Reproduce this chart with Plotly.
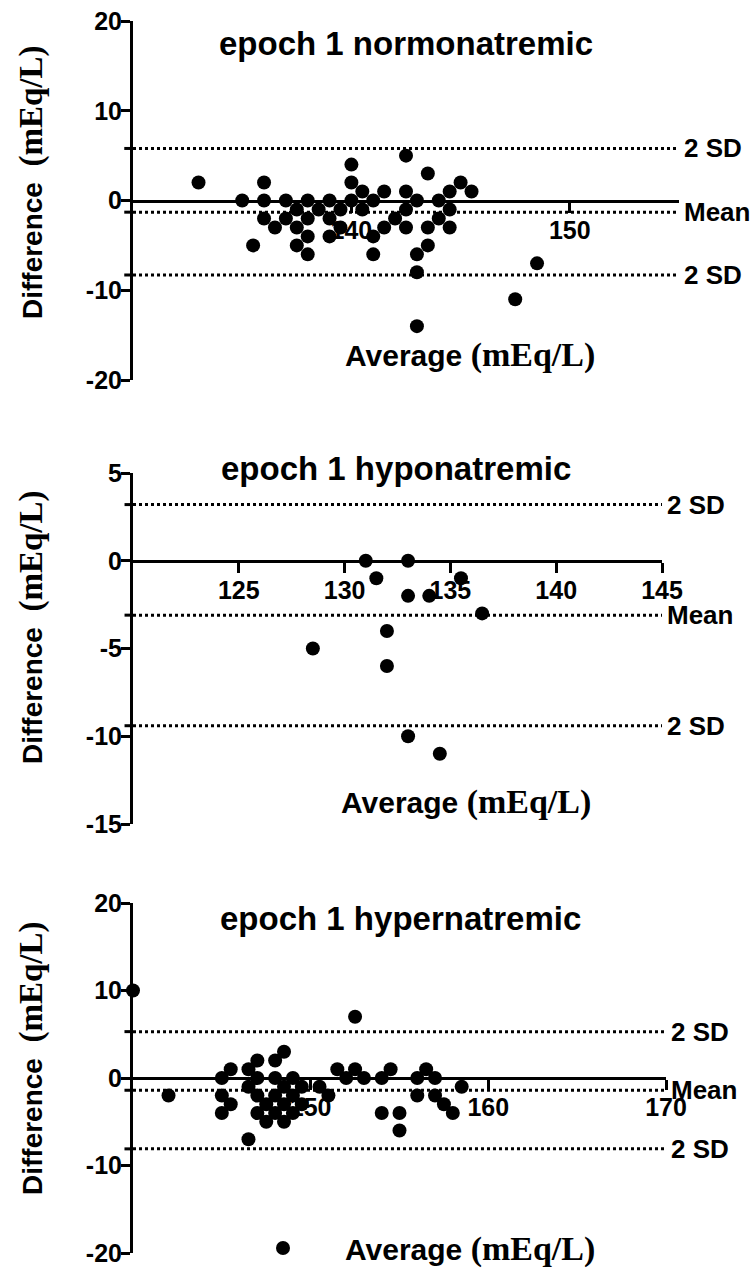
import plotly.graph_objects as go

W, H = 755, 1268
SANS = "Liberation Sans"
SERIF = "Liberation Serif"

# ---------------- data ----------------
# Panel 1: epoch 1 normonatremic
norm_avg = [133, 135, 135.5, 136, 136, 136, 136.5, 137, 137, 137.5, 137.5, 137.5,
            138, 138, 138, 138, 138.5, 139, 139, 139, 139.5, 139.5, 140, 140, 140,
            140.5, 140.5, 141, 141, 141, 141.5, 141.5, 142, 142.5, 142.5, 142.5, 142.5,
            143, 143, 143, 143, 143.5, 143.5, 143.5, 144, 144, 144.5, 144.5, 144.5,
            145, 145.5, 147.5, 148.5]
norm_diff = [2, 0, -5, 2, 0, -2, -3, 0, -2, -1, -3, -5,
             0, -2, -4, -6, -1, 0, -2, -4, -1, -3, 4, 2, 0,
             1, -1, 0, -4, -6, 1, -3, -2, 5, 1, -1, -3,
             0, -6, -8, -14, 3, -3, -5, 0, -2, 1, -1, -3,
             2, 1, -11, -7]
norm_upper, norm_mean, norm_lower = 5.8, -1.3, -8.3

# Panel 2: epoch 1 hyponatremic
hypo_avg = [128.5, 131, 131.5, 132, 132, 133, 133, 133, 134, 134.5, 135.5, 136.5]
hypo_diff = [-5, 0, -1, -4, -6, 0, -2, -10, -2, -11, -1, -3]
hypo_upper, hypo_mean, hypo_lower = 3.2, -3.1, -9.4

# Panel 3: epoch 1 hypernatremic
hyper_avg = [140, 142, 145, 145, 145, 145.5, 145.5, 146.5, 146.5, 146.5,
             147, 147, 147, 147, 147.5, 147.5, 148, 148, 148, 148,
             148.5, 148.5, 148.5, 148.5, 149, 149, 149, 149.5, 149.5,
             150.5, 151, 151.5, 152, 152.5, 152.5, 153, 154, 154, 154.5,
             155, 155, 156, 156, 156.5, 157, 157, 157.5, 158, 158.5]
hyper_diff = [10, -2, 0, -2, -4, 1, -3, 1, -1, -7,
              2, 0, -2, -4, -3, -5, 2, 0, -2, -4,
              3, -1, -3, -5, 0, -2, -4, -1, -3,
              -1, -2, 1, 0, 7, 1, 0, 0, -4, 1,
              -4, -6, 0, -2, 1, 0, -2, -3, -4, -1]
hyper_upper, hyper_mean, hyper_lower = 5.3, -1.4, -8.1

titles = ["epoch 1 normonatremic", "epoch 1 hyponatremic", "epoch 1 hypernatremic"]
x_ranges = [[130, 155], [120, 145], [140, 170]]
y_ranges = [[-20, 20], [-15, 5], [-20, 20]]
x_ticks = [[140, 150], [125, 130, 135, 140, 145], [150, 160, 170]]
y_ticks = [[-20, -10, 0, 10, 20], [-15, -10, -5, 0, 5], [-20, -10, 0, 10, 20]]
line_labels = ["2 SD", "Mean", "2 SD"]

AVG_LABEL = ('Average <span style="font-family:Liberation Serif;font-size:34px">'
             '(mEq/L)</span>')
DIFF_LABEL = ('Difference  <span style="font-family:Liberation Serif;font-size:33px">'
              '(mEq/L)</span>')

# ---------------- layout geometry (pixels) ----------------
panels = [
    dict(x0=133, x1=679, ytop=21, ybot=380, title_xy=(406, 43), avg_xy=(470, 355), ytitle_y=182),
    dict(x0=133, x1=662, ytop=473, ybot=824, title_xy=(396, 469), avg_xy=(466, 802), ytitle_y=627),
    dict(x0=133, x1=666, ytop=903, ybot=1253, title_xy=(400, 918), avg_xy=None, ytitle_y=1058),
]

series = [
    (norm_avg, norm_diff, (norm_upper, norm_mean, norm_lower)),
    (hypo_avg, hypo_diff, (hypo_upper, hypo_mean, hypo_lower)),
    (hyper_avg, hyper_diff, (hyper_upper, hyper_mean, hyper_lower)),
]

fig = go.Figure()
shapes = []
annotations = []
layout_axes = {}

def px(x):
    return x / W

def py(y):
    return 1 - y / H

for i, (p, (xs, ys, lines)) in enumerate(zip(panels, series)):
    n = "" if i == 0 else str(i + 1)
    xa, ya = "x" + n, "y" + n
    last = i == 2
    fig.add_trace(go.Scatter(
        x=xs, y=ys, mode="markers", xaxis=xa, yaxis=ya,
        marker=dict(size=14, color="black"),
        cliponaxis=False,
        showlegend=last,
        name=AVG_LABEL if last else titles[i],
    ))
    ydom = [py(p["ybot"]), py(p["ytop"])]
    yr = y_ranges[i]
    zero_pos = ydom[0] + (0 - yr[0]) / (yr[1] - yr[0]) * (ydom[1] - ydom[0])
    tickfont = dict(family=SANS, size=25, color="black", weight="bold")
    layout_axes["xaxis" + n] = dict(
        domain=[px(p["x0"]), px(p["x1"])], range=x_ranges[i],
        anchor="free", position=zero_pos,
        showline=True, linewidth=3, linecolor="black",
        ticks="outside", ticklen=10, tickwidth=3, tickcolor="black",
        tickvals=x_ticks[i], ticktext=[str(v) for v in x_ticks[i]],
        tickfont=tickfont, showgrid=False, zeroline=False,
        ticklabelstandoff=-4, ticklabeloverflow="allow",
        layer="below traces", fixedrange=True, automargin=False,
    )
    layout_axes["yaxis" + n] = dict(
        domain=ydom, range=yr, anchor=xa,
        showline=True, linewidth=3, linecolor="black",
        ticks="outside", ticklen=9, tickwidth=3, tickcolor="black",
        tickvals=y_ticks[i], ticktext=[str(v) for v in y_ticks[i]],
        tickfont=tickfont, showgrid=False, zeroline=False, fixedrange=True,
        ticklabelstandoff=-6, ticklabeloverflow="allow",
        automargin=False,
    )
    for val, lab in zip(lines, line_labels):
        shapes.append(dict(type="line", xref=xa + " domain", yref=ya,
                           x0=0, x1=1, y0=val, y1=val, layer="below",
                           line=dict(color="black", width=3, dash="3px,3px")))
        shapes.append(dict(type="line", xref=xa + " domain", yref=ya,
                           x0=-0.016, x1=0, y0=val, y1=val, layer="below",
                           line=dict(color="black", width=3)))
        annotations.append(dict(xref=xa + " domain", yref=ya, x=1, y=val,
                                xanchor="left", yanchor="middle", xshift=3,
                                text=lab, showarrow=False,
                                font=dict(family=SANS, size=26, color="black", weight="bold")))
    tx, ty = p["title_xy"]
    annotations.append(dict(xref="paper", yref="paper", x=px(tx), y=py(ty),
                            xanchor="center", yanchor="middle", text=titles[i],
                            showarrow=False,
                            font=dict(family=SANS, size=33, color="black", weight="bold")))
    if p["avg_xy"] is not None:
        ax_, ay_ = p["avg_xy"]
        annotations.append(dict(xref="paper", yref="paper", x=px(ax_), y=py(ay_),
                                xanchor="center", yanchor="middle", text=AVG_LABEL,
                                showarrow=False,
                                font=dict(family=SANS, size=30, color="black", weight="bold")))
    annotations.append(dict(xref="paper", yref="paper", x=px(31), y=py(p["ytitle_y"]),
                            xanchor="center", yanchor="middle", text=DIFF_LABEL,
                            textangle=-90, showarrow=False,
                            font=dict(family=SANS, size=28, color="black", weight="bold")))

fig.update_layout(
    width=W, height=H,
    margin=dict(l=0, r=0, t=0, b=0, pad=0, autoexpand=False),
    paper_bgcolor="white", plot_bgcolor="white",
    shapes=shapes, annotations=annotations,
    showlegend=True,
    legend=dict(x=px(221), y=py(1248), xanchor="left", yanchor="middle",
                itemwidth=114, tracegroupgap=0,
                bgcolor="rgba(0,0,0,0)", borderwidth=0,
                font=dict(family=SANS, size=30, color="black", weight="bold")),
    **layout_axes,
)

fig.write_html("out.html")
